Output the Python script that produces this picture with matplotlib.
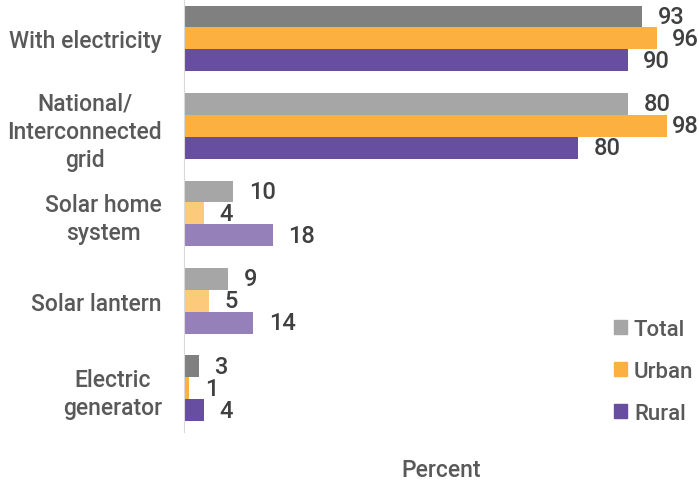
import numpy as np
import matplotlib
matplotlib.use('Agg')
import matplotlib.pyplot as plt
from matplotlib.patches import Patch

plt.rcParams['font.family'] = ['Roboto', 'DejaVu Sans']

# data
categories = ['With electricity', 'National/\nInterconnected\ngrid',
              'Solar home\nsystem', 'Solar lantern', 'Electric\ngenerator']
series = ['Total', 'Urban', 'Rural']
# bar lengths as drawn (the grid "Total" bar is drawn near 90 though labelled 80)
total = [93, 90, 10, 9, 3]
urban = [96, 98, 4, 5, 1]
rural = [90, 80, 18, 14, 4]
total_labels = ['93', '80', '10', '9', '3']
urban_labels = ['96', '98', '4', '5', '1']
rural_labels = ['90', '80', '18', '14', '4']

# colours change per group in the original
total_cols = ['#808080', '#a6a6a6', '#a6a6a6', '#a6a6a6', '#808080']
urban_cols = ['#fbb040', '#fbb040', '#fdc97a', '#fdc97a', '#fbb040']
rural_cols = ['#674ea0', '#674ea0', '#9580ba', '#9580ba', '#674ea0']
legend_cols = ['#a6a6a6', '#fbb040', '#674ea0']

fig = plt.figure(figsize=(6.99, 4.81), dpi=100)
ax = fig.add_axes([184/699, 1-433/481, 515/699, 433/481])

y = np.arange(len(categories))
h = 0.25
groups = [(total, total_labels, total_cols, -h),
          (urban, urban_labels, urban_cols, 0),
          (rural, rural_labels, rural_cols, h)]
for vals, labs, cols, off in groups:
    bars = ax.barh(y + off, vals, height=h, color=cols)
    for b, v, t in zip(bars, vals, labs):
        # labels sit right of the bar, pushed back in near the edge
        ax.text(min(v + 3.2, 99.0), b.get_y() + h/2, t, va='center', ha='left',
                fontsize=17, fontweight='medium', color='#404040')

ax.set_ylim(4.5, -0.45)
ax.set_xlim(0, 104.5)
ax.set_yticks(y)
ax.set_yticklabels(categories, fontsize=16.5, fontweight='medium', color='#595959',
                   multialignment='center', linespacing=1.3)
ax.tick_params(axis='y', length=0, pad=16)
ax.set_xticks([])
for s in ['top', 'right', 'bottom']:
    ax.spines[s].set_visible(False)
ax.spines['left'].set_color('#d9d9d9')
ax.set_xlabel('Percent', fontsize=16.5, fontweight='medium', color='#595959', labelpad=19)

handles = [Patch(color=c, label=s) for c, s in zip(legend_cols, series)]
leg = ax.legend(handles=handles, loc='lower right', bbox_to_anchor=(1.028, -0.028),
                frameon=False, handlelength=0.6, handleheight=0.6,
                handletextpad=0.3, labelspacing=0.95, labelcolor='#595959',
                prop={'size': 16, 'weight': 'medium'})

fig.savefig('out.png', dpi=100)
